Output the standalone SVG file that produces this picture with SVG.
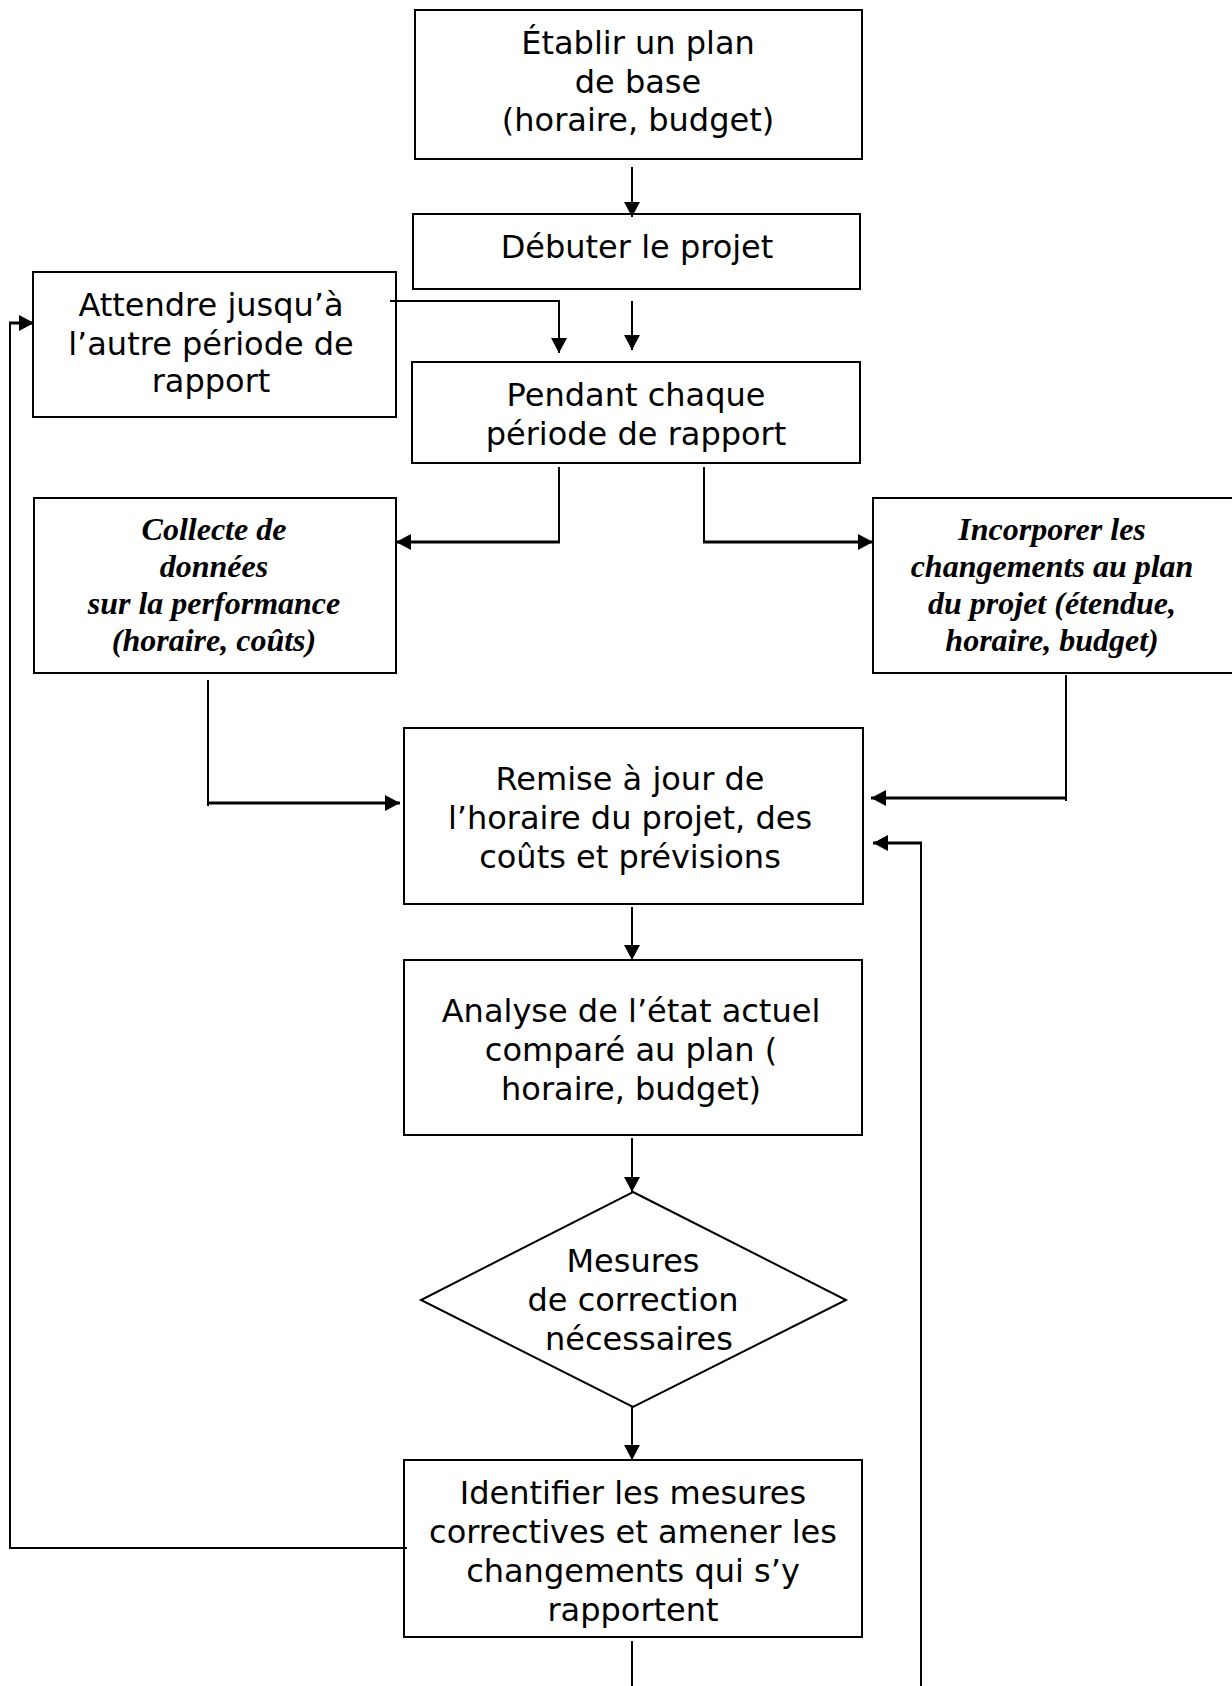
<svg xmlns="http://www.w3.org/2000/svg" width="1232" height="1686" viewBox="0 0 1232 1686">
  <style>
    .box { fill: #ffffff; stroke: #000000; stroke-width: 2; }
    .lbl { font-family: "DejaVu Sans", Verdana, sans-serif; font-size: 32px; fill: #000000; text-anchor: middle; }
    .ital { font-family: "Liberation Serif", "Times New Roman", serif; font-size: 32px; font-style: italic; font-weight: bold; fill: #000000; text-anchor: middle; }
    .wire { fill: none; stroke: #000000; stroke-width: 2; }
    .wire.thick { stroke-width: 3; }
  </style>
  <defs>
    <marker id="arrow" viewBox="0 0 15 16" refX="15" refY="8" markerWidth="15" markerHeight="16" markerUnits="userSpaceOnUse" orient="auto">
      <path d="M0,0 L15,8 L0,16 z" fill="#000000"/>
    </marker>
  </defs>

  <rect x="0" y="0" width="1232" height="1686" fill="#ffffff"/>

  <!-- nodes -->
  <g id="node-plan">
    <rect class="box" x="415" y="10" width="447" height="149"/>
    <text class="lbl" x="638" y="54">Établir un plan</text>
    <text class="lbl" x="638" y="93">de base</text>
    <text class="lbl" x="638" y="131">(horaire, budget)</text>
  </g>

  <g id="node-debut">
    <rect class="box" x="413" y="214" width="447" height="75"/>
    <text class="lbl" x="637" y="258">Débuter le projet</text>
  </g>

  <g id="node-attendre">
    <rect class="box" x="33" y="272" width="363" height="145"/>
    <text class="lbl" x="211" y="316">Attendre jusqu’à</text>
    <text class="lbl" x="211" y="355">l’autre période de</text>
    <text class="lbl" x="211" y="392">rapport</text>
  </g>

  <g id="node-pendant">
    <rect class="box" x="412" y="362" width="448" height="101"/>
    <text class="lbl" x="636" y="406">Pendant chaque</text>
    <text class="lbl" x="636" y="445">période de rapport</text>
  </g>

  <g id="node-collecte">
    <rect class="box" x="34" y="498" width="362" height="175"/>
    <text class="ital" x="214" y="540">Collecte de</text>
    <text class="ital" x="214" y="577">données</text>
    <text class="ital" x="214" y="614">sur la performance</text>
    <text class="ital" x="214" y="651">(horaire, coûts)</text>
  </g>

  <g id="node-incorporer">
    <rect class="box" x="873" y="498" width="380" height="175"/>
    <text class="ital" x="1052" y="540">Incorporer les</text>
    <text class="ital" x="1052" y="577">changements au plan</text>
    <text class="ital" x="1052" y="614">du projet (étendue,</text>
    <text class="ital" x="1052" y="651">horaire, budget)</text>
  </g>

  <g id="node-remise">
    <rect class="box" x="404" y="728" width="459" height="176"/>
    <text class="lbl" x="630" y="790">Remise à jour de</text>
    <text class="lbl" x="630" y="829">l’horaire du projet, des</text>
    <text class="lbl" x="630" y="868">coûts et prévisions</text>
  </g>

  <g id="node-analyse">
    <rect class="box" x="404" y="960" width="458" height="175"/>
    <text class="lbl" x="631" y="1022">Analyse de l’état actuel</text>
    <text class="lbl" x="631" y="1061">comparé au plan (</text>
    <text class="lbl" x="631" y="1100"> horaire, budget)</text>
  </g>

  <g id="node-mesures">
    <polygon class="box" points="633,1192 846,1300 633,1407 421,1300"/>
    <text class="lbl" x="633" y="1272">Mesures</text>
    <text class="lbl" x="633" y="1311">de correction</text>
    <text class="lbl" x="639" y="1350">nécessaires</text>
  </g>

  <g id="node-identifier">
    <rect class="box" x="404" y="1460" width="458" height="177"/>
    <text class="lbl" x="633" y="1504">Identifier les mesures</text>
    <text class="lbl" x="633" y="1543">correctives et amener les</text>
    <text class="lbl" x="633" y="1582">changements qui s’y</text>
    <text class="lbl" x="633" y="1621">rapportent</text>
  </g>

  <!-- connectors, drawn over the boxes so stubs entering a box stay visible -->
  <g id="connectors">
    <path class="wire" d="M632,167 V217" marker-end="url(#arrow)"/>
    <path class="wire" d="M390,301 H559 V353" marker-end="url(#arrow)"/>
    <path class="wire" d="M632,301 V350" marker-end="url(#arrow)"/>
    <path class="wire" d="M559,467 V542"/>
    <path class="wire thick" d="M560,542 H396" marker-end="url(#arrow)"/>
    <path class="wire" d="M704,467 V542"/>
    <path class="wire thick" d="M703,542 H873" marker-end="url(#arrow)"/>
    <path class="wire" d="M208,680 V806"/>
    <path class="wire thick" d="M207,803 H400" marker-end="url(#arrow)"/>
    <path class="wire" d="M1066,675 V801"/>
    <path class="wire thick" d="M1067,798 H871" marker-end="url(#arrow)"/>
    <path class="wire" d="M921,1686 V843"/>
    <path class="wire thick" d="M922,843 H873" marker-end="url(#arrow)"/>
    <path class="wire" d="M632,907 V960" marker-end="url(#arrow)"/>
    <path class="wire" d="M632,1138 V1192" marker-end="url(#arrow)"/>
    <path class="wire" d="M632,1407 V1460" marker-end="url(#arrow)"/>
    <path class="wire" d="M632,1641 V1686"/>
    <path class="wire" d="M407,1548 H10 V323"/>
    <path class="wire thick" d="M9,323 H34" marker-end="url(#arrow)"/>
  </g>
</svg>
